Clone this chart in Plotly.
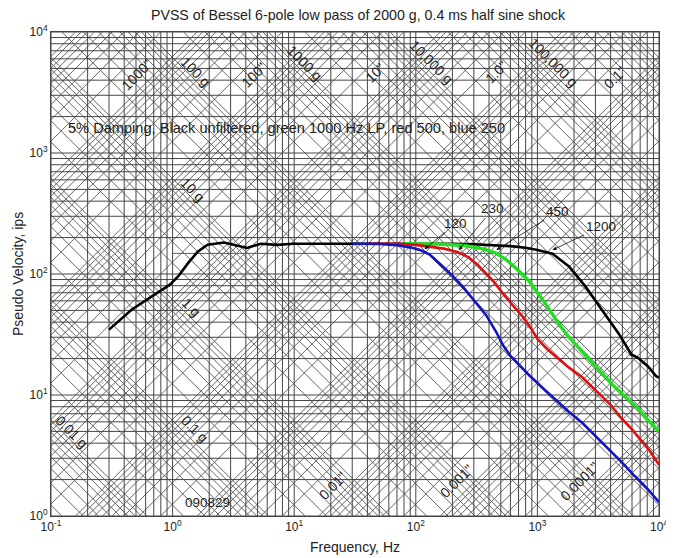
import math
import plotly.graph_objects as go

# ---------------- data ----------------
title_text = "PVSS of Bessel 6-pole low pass of 2000 g, 0.4 ms half sine shock"
x_tickvals = [0.1, 1, 10, 100, 1000, 10000]
x_ticktext = ["10<sup>-1</sup>", "10<sup>0</sup>", "10<sup>1</sup>", "10<sup>2</sup>", "10<sup>3</sup>", "10<sup>4</sup>"]
y_tickvals = [1, 10, 100, 1000, 10000]
y_ticktext = ["10<sup>0</sup>", "10<sup>1</sup>", "10<sup>2</sup>", "10<sup>3</sup>", "10<sup>4</sup>"]

# unfiltered (black)
black_f = [0.3, 0.46, 0.675, 0.95, 1.11, 1.34, 1.61, 1.94, 2.65, 3.4, 4.1, 5.3, 7.2, 9.8, 20, 50,
           100, 200, 300, 435, 600, 800, 980, 1330, 1820, 2480, 3390, 4620, 5930, 6710, 8090, 9460, 10000]
black_v = [34.7, 50.7, 65.3, 81.6, 95.5, 123, 153, 174.5, 182, 171, 164, 178, 174, 178, 178, 178,
           179, 178, 176, 174, 170, 165, 158.6, 147, 115.6, 79, 50.7, 32.6, 21.6, 20.3, 17.3, 14.3, 13.9]

# 1000 Hz LP (green)
green_f = [80, 150, 250, 350, 450, 550, 650, 750, 850, 1000, 1150, 1400, 1700, 2000, 2400, 2800,
           3400, 4200, 5200, 6700, 8000, 10000]
green_v = [178, 177, 172, 162, 150, 132, 114, 100, 88, 70, 58, 43, 32.5, 27, 22, 18.5,
           15, 12, 9.8, 7.8, 6.3, 5.0]

# 500 Hz LP (red)
red_f = [40, 70, 100, 130, 170, 220, 270, 320, 380, 440, 525, 640, 762, 880, 1000, 1200, 1420,
         1800, 2335, 3000, 3390, 4000, 4930, 6000, 7150, 8500, 10000]
red_v = [178, 178, 174, 168, 162, 152, 138, 120, 100, 86, 68, 54, 44, 36, 29, 24, 20.9,
         17, 14.0, 11, 9.8, 8.3, 6.4, 5.2, 4.2, 3.4, 2.65]

# 250 Hz LP (blue)
blue_f = [30, 50, 70, 90, 110, 130, 160, 200, 250, 310, 380, 460, 525, 600, 700, 860, 1100, 1420,
          1800, 2335, 3000, 3840, 5000, 6310, 8000, 10000]
blue_v = [178, 177, 173, 166, 157, 145, 120, 97, 76, 58, 45.5, 33, 25.5, 21, 17.9, 14.5, 11.5, 9.1,
          7.3, 5.9, 4.6, 3.55, 2.75, 2.14, 1.68, 1.30]

# reference level line
ref_level = 148
ref_f = [1, 5000]

# corner-frequency callouts
callout_text = ["120", "230", "450", "1200"]
callout_f = [118, 226, 460, 1334]
callout_v = [160, 158, 158, 158]

# diagonal grid labels
g_label_text = ["0.01 g", "0.1 g", "1 g", "10 g", "100 g", "1000 g", "10,000 g", "100,000 g"]
d_label_text = ['1000"', '100"', '10"', '1.0"', '0.1"', '0.01"', '0.001"', '0.0001"']

note_text = "5% Damping, Black unfiltered, green 1000 Hz LP, red 500, blue 250"
date_text = "090829"

# ---------------- layout constants ----------------
G_IN = 386.09
LX0, LX1, LY0, LY1 = -1.0, 4.0, 0.0, 4.0
FIG_W, FIG_H = 666, 550   # page adds an 8 px body margin

g_label_pos = [(0.148, 4.9), (1.52, 5.2), (1.42, 53.7), (1.47, 496), (1.55, 4670),
               (12.1, 5510), (134, 5610), (1334, 5610)]
d_label_pos = [(0.507, 4395), (4.67, 4395), (46.4, 4580), (460, 4670), (4315, 4160),
               (20.8, 1.76), (218, 1.93), (2250, 1.93)]
callout_offsets = [(31, -26), (34, -41), (61, -38), (48, -23)]


def decade_values(lo_exp, hi_exp):
    vals = []
    for n in range(lo_exp, hi_exp):
        for k in range(1, 10):
            vals.append(k * 10.0 ** n)
    vals.append(10.0 ** hi_exp)
    return vals


fig = go.Figure()

# vertical & horizontal grid
gx, gy = [], []
for f in decade_values(-1, 4):
    gx += [f, f, None]
    gy += [10 ** LY0, 10 ** LY1, None]
for v in decade_values(0, 4):
    gx += [10 ** LX0, 10 ** LX1, None]
    gy += [v, v, None]

# diagonal grid: acceleration lines (slope -1) and displacement lines (slope +1)
dx, dy = [], []
for a in decade_values(-4, 8):
    c = math.log10(G_IN * a / (2 * math.pi))
    xs = max(LX0, c - LY1)
    xe = min(LX1, c - LY0)
    if xe - xs > 1e-9:
        dx += [10 ** xs, 10 ** xe, None]
        dy += [10 ** (c - xs), 10 ** (c - xe), None]
for d in decade_values(-6, 6):
    c = math.log10(2 * math.pi * d)
    xs = max(LX0, LY0 - c)
    xe = min(LX1, LY1 - c)
    if xe - xs > 1e-9:
        dx += [10 ** xs, 10 ** xe, None]
        dy += [10 ** (c + xs), 10 ** (c + xe), None]

fig.add_trace(go.Scatter(x=dx, y=dy, mode="lines", line=dict(color="#666666", width=1),
                         hoverinfo="skip", showlegend=False))
fig.add_trace(go.Scatter(x=gx, y=gy, mode="lines", line=dict(color="#464646", width=1),
                         hoverinfo="skip", showlegend=False))

# reference level
fig.add_trace(go.Scatter(x=ref_f, y=[ref_level, ref_level], mode="lines",
                         line=dict(color="#5050c8", width=1), hoverinfo="skip", showlegend=False))

# curves
fig.add_trace(go.Scatter(x=black_f, y=black_v, mode="lines", line=dict(color="#000000", width=2.6),
                         showlegend=False))
fig.add_trace(go.Scatter(x=green_f, y=green_v, mode="lines", line=dict(color="#22dd22", width=3.4),
                         showlegend=False))
fig.add_trace(go.Scatter(x=red_f, y=red_v, mode="lines", line=dict(color="#dd1111", width=2.6),
                         showlegend=False))
fig.add_trace(go.Scatter(x=blue_f, y=blue_v, mode="lines", line=dict(color="#1515c0", width=2.6),
                         showlegend=False))

FONT = "Liberation Sans, Arial, sans-serif"
annotations = []
lbl_font = dict(family=FONT, size=14, color="#222222")
for t, (f, v) in zip(g_label_text, g_label_pos):
    annotations.append(dict(x=math.log10(f), y=math.log10(v), text=t, showarrow=False,
                            textangle=45, font=lbl_font))
for t, (f, v) in zip(d_label_text, d_label_pos):
    annotations.append(dict(x=math.log10(f), y=math.log10(v), text=t, showarrow=False,
                            textangle=-45, font=lbl_font))
for t, f, v, (ox, oy) in zip(callout_text, callout_f, callout_v, callout_offsets):
    annotations.append(dict(x=math.log10(f), y=math.log10(v), text=t, showarrow=True,
                            arrowhead=2, arrowsize=1, arrowwidth=0.8, arrowcolor="#111111",
                            ax=ox, ay=oy, font=dict(family=FONT, size=13.5, color="#222222"),
                            standoff=0))
annotations.append(dict(x=math.log10(8.65), y=math.log10(1610), text=note_text, showarrow=False,
                        font=dict(family=FONT, size=14.6, color="#222222")))
annotations.append(dict(x=math.log10(1.94), y=math.log10(1.30), text=date_text, showarrow=False,
                        font=dict(family=FONT, size=13.5, color="#222222")))

axis_font = dict(family=FONT, size=12, color="#222222")
title_font = dict(family=FONT, size=14, color="#222222")
fig.update_layout(
    width=FIG_W, height=FIG_H,
    margin=dict(l=43, r=6, t=24, b=41),
    paper_bgcolor="white", plot_bgcolor="white",
    title=dict(text=title_text, x=0.5255, xanchor="center", y=1 - 7 / FIG_H, yanchor="middle",
               font=dict(family=FONT, size=14.2, color="#222222")),
    xaxis=dict(type="log", range=[LX0, LX1], tickvals=x_tickvals, ticktext=x_ticktext,
               showgrid=False, zeroline=False, showline=True, mirror=True, linecolor="#444444",
               linewidth=1, ticks="", tickfont=axis_font, ticklabeloverflow="allow",
               title=dict(text="Frequency, Hz", font=title_font, standoff=8)),
    yaxis=dict(type="log", range=[LY0, LY1], tickvals=y_tickvals, ticktext=y_ticktext,
               showgrid=False, zeroline=False, showline=True, mirror=True, linecolor="#444444",
               linewidth=1, ticks="", tickfont=axis_font,
               title=dict(text="Pseudo Velocity, ips", font=title_font, standoff=2)),
    annotations=annotations,
    font=dict(family=FONT),
)

fig.write_html("out.html")
